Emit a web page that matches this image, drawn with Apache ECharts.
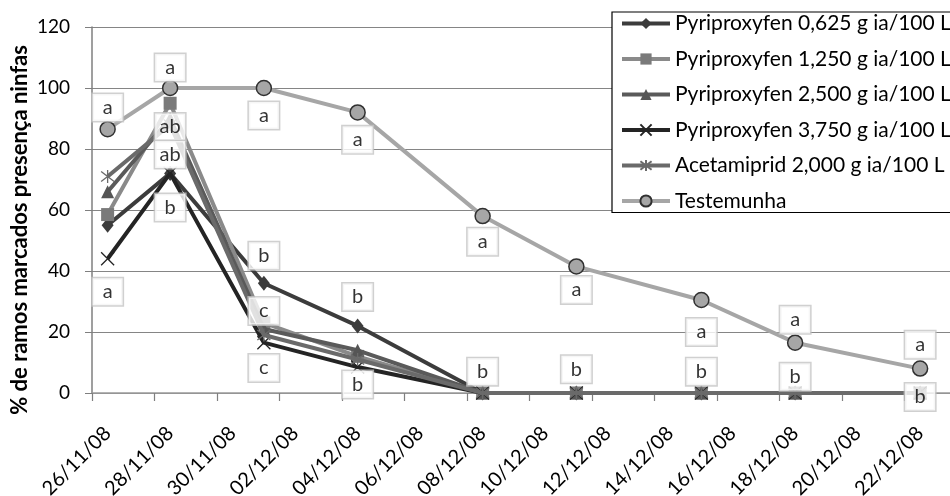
<!DOCTYPE html>
<html><head><meta charset="utf-8">
<script src="https://cdn.jsdelivr.net/npm/echarts@6/dist/echarts.min.js"></script>
<style>html,body{margin:0;padding:0;background:#fff}#c{width:950px;height:496px}</style>
</head><body><div id="c"></div>
<script>
// Day categories of the date axis (one per day)
const categories = ['26/11/08','27/11/08','28/11/08','29/11/08','30/11/08','01/12/08','02/12/08','03/12/08','04/12/08','05/12/08','06/12/08','07/12/08','08/12/08','09/12/08','10/12/08','11/12/08','12/12/08','13/12/08','14/12/08','15/12/08','16/12/08','17/12/08','18/12/08','19/12/08','20/12/08','21/12/08','22/12/08','23/12/08'];
// Sampling dates
const sampleDates = ['26/11/08','28/11/08','01/12/08','04/12/08','08/12/08','11/12/08','15/12/08','18/12/08','22/12/08'];
const seriesNames = ['Pyriproxyfen 0,625 g ia/100 L','Pyriproxyfen 1,250 g ia/100 L','Pyriproxyfen 2,500 g ia/100 L','Pyriproxyfen 3,750 g ia/100 L','Acetamiprid 2,000 g ia/100 L','Testemunha'];
const pyri0625 = [55, 72, 36, 22, 0, 0, 0, 0, 0];
const pyri1250 = [58.5, 95, 23, 12, 0, 0, 0, 0, 0];
const pyri2500 = [66, 90, 21, 14, 0, 0, 0, 0, 0];
const pyri3750 = [44, 72, 16.5, 8.5, 0, 0, 0, 0, 0];
const acetamiprid = [71, 88, 19, 11, 0, 0, 0, 0, 0];
const testemunha = [86.5, 100, 100, 92, 58, 41.5, 30.5, 16.5, 8];
// Significance letters (date, vertical position in axis units, text)
const letterDates = ['26/11/08','26/11/08','28/11/08','28/11/08','28/11/08','28/11/08','01/12/08','01/12/08','01/12/08','01/12/08','04/12/08','04/12/08','04/12/08','08/12/08','08/12/08','11/12/08','11/12/08','15/12/08','15/12/08','18/12/08','18/12/08','22/12/08','22/12/08'];
const letterPos = [93.6, 33.2, 106.7, 87.2, 78.2, 60.8, 91, 45, 26.9, 8.2, 83, 31.5, 2.8, 49.6, 7, 33.8, 7.8, 20, 7, 24, 5.3, 15.8, -1.3];
const letterTexts = ['a','a','a','ab','ab','b','a','b','c','c','a','b','b','a','b','a','b','a','b','a','b','a','b'];
const yTicks = [0, 20, 40, 60, 80, 100, 120];
const yTitle = '% de ramos marcados presença ninfas';

const FONT = 'Lato';
const styles = [
  {line:'#3c3c3c', fill:'#3c3c3c', border:'#3c3c3c', bw:0, symbol:'diamond', size:[12,15]},
  {line:'#8a8a8a', fill:'#7a7a7a', border:'#7a7a7a', bw:0, symbol:'rect', size:13},
  {line:'#5a5a5a', fill:'#555555', border:'#555555', bw:0, symbol:'triangle', size:13},
  {line:'#242424', fill:'rgba(0,0,0,0)', border:'#242424', bw:1.3, symbol:'path://M0,0L10,10M0,10L10,0', size:13},
  {line:'#6a6a6a', fill:'rgba(0,0,0,0)', border:'#6a6a6a', bw:1.3, symbol:'path://M0,0L10,10M0,10L10,0M5,-1.5L5,11.5', size:13},
  {line:'#a6a6a6', fill:'#a6a6a6', border:'#303030', bw:1.5, symbol:'circle', size:15}
];
const values = [pyri0625, pyri1250, pyri2500, pyri3750, acetamiprid, testemunha];

const series = values.map((vals, k) => ({
  name: seriesNames[k], type: 'line',
  data: sampleDates.map((d, i) => [d, vals[i]]),
  symbol: styles[k].symbol, symbolSize: styles[k].size, showAllSymbol: true,
  lineStyle: {color: styles[k].line, width: 4},
  itemStyle: {color: styles[k].fill, borderColor: styles[k].border, borderWidth: styles[k].bw},
  z: 2 + k, animation: false
}));
series.push({
  type: 'scatter', silent: true, clip: false, z: 20,
  data: letterDates.map((d, i) => [d, letterPos[i], letterTexts[i]]),
  symbolSize: 1, itemStyle: {color: 'rgba(0,0,0,0)'},
  label: {show: true, position: 'inside', formatter: p => p.data[2],
    fontFamily: FONT, fontSize: 20, color: '#000', backgroundColor: '#fff',
    borderColor: '#c4c4c4', borderWidth: 1.5, padding: [2, 4, 1, 4], width: 22, align: 'center', lineHeight: 24}
});

const chart = echarts.init(document.getElementById('c'));
chart.setOption({
  animation: false,
  backgroundColor: '#fff',
  grid: {left: 92, top: 27, width: 875, height: 366, containLabel: false, outerBoundsMode: 'none'},
  graphic: [{type: 'text', x: 20, y: 230, rotation: Math.PI / 2, silent: true,
    style: {text: yTitle, fontFamily: FONT, fontWeight: 'bold', fontSize: 22, fill: '#000', align: 'center', verticalAlign: 'middle'}}],
  xAxis: {
    type: 'category', data: categories, boundaryGap: true,
    axisLine: {lineStyle: {color: '#9a9a9a', width: 1.5}},
    axisTick: {show: true, interval: 1, length: 8, lineStyle: {color: '#7f7f7f', width: 1.2}},
    axisLabel: {interval: 1, rotate: 45, fontFamily: FONT, fontSize: 20, color: '#000', margin: 37}
  },
  yAxis: {
    type: 'value', min: yTicks[0], max: yTicks[yTicks.length - 1], interval: 20,
    axisLine: {show: true, lineStyle: {color: '#7f7f7f', width: 1.5}},
    axisTick: {show: true, length: 7, lineStyle: {color: '#7f7f7f'}},
    splitLine: {lineStyle: {color: '#858585', width: 1.2}},
    axisLabel: {fontFamily: FONT, fontSize: 19, color: '#000', margin: 22}
  },
  legend: {
    data: seriesNames, orient: 'vertical', left: 612, top: 12,
    itemWidth: 48, itemHeight: 14, itemGap: 12.5,
    padding: [0, 40, 0, 8], borderColor: '#000', borderWidth: 1.2, backgroundColor: '#fff',
    lineStyle: {width: 4},
    textStyle: {fontFamily: FONT, fontSize: 21, color: '#000', lineHeight: 23}
  },
  series: series
});
</script></body></html>
